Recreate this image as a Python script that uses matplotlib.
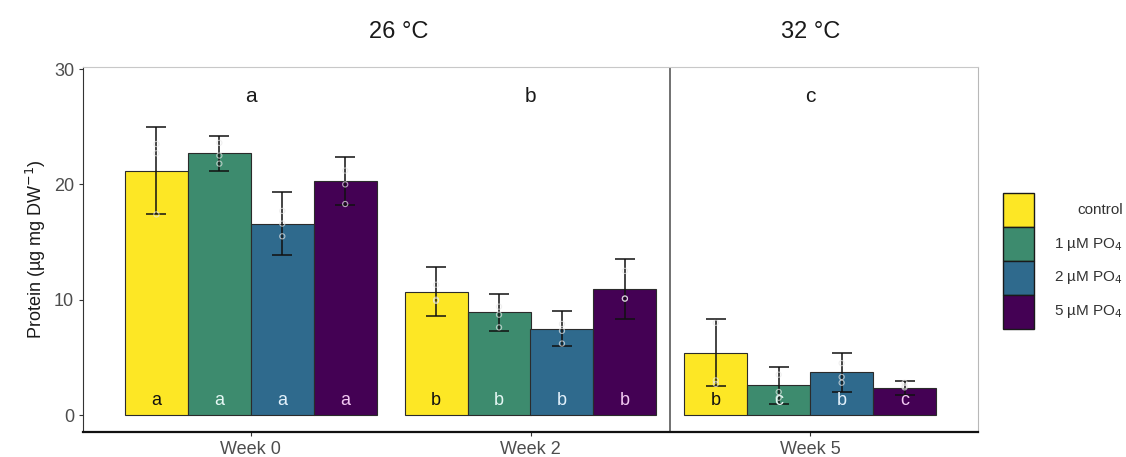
"""Protein per dry weight by week and phosphate treatment."""
import numpy as np
import matplotlib.pyplot as plt
from matplotlib.patches import Rectangle

plt.rcParams["font.family"] = ["Liberation Sans", "DejaVu Sans"]

weeks = ["Week 0", "Week 2", "Week 5"]
treatments = ["control", "1 µM PO$_4$", "2 µM PO$_4$", "5 µM PO$_4$"]
colors = ["#FDE725", "#3d8b6e", "#2f6a8d", "#440154"]
label_colors = ["#111111", "#e6f7f4", "#e3f1fb", "#f2c9f2"]

# means (rows: treatment, cols: week)
means = [
    [21.2, 10.7, 5.4],
    [22.7, 8.9, 2.6],
    [16.6, 7.5, 3.7],
    [20.3, 10.9, 2.35],
]
errors = [
    [3.8, 2.1, 2.9],
    [1.5, 1.6, 1.6],
    [2.7, 1.5, 1.7],
    [2.1, 2.6, 0.6],
]
replicates = [
    [[23.5, 22.7, 17.4], [11.3, 10.0, 9.9], [3.0, 2.7, 8.0]],
    [[23.6, 22.5, 21.8], [9.4, 8.7, 7.6], [3.5, 2.0, 1.5]],
    [[17.7, 16.6, 15.5], [7.9, 7.3, 6.2], [4.5, 3.3, 2.8]],
    [[21.2, 20.0, 18.3], [10.1, 10.1, 12.5], [2.8, 2.5, 2.4]],
]
bar_letters = [
    ["a", "b", "b"],
    ["a", "b", "c"],
    ["a", "b", "b"],
    ["a", "b", "c"],
]
week_letters = ["a", "b", "c"]
facet_labels = ["26 °C", "32 °C"]

fig = plt.figure(figsize=(11.26, 4.57), dpi=100)
ax = fig.add_axes([83 / 1126, 1 - 432 / 457, (978 - 83) / 1126, (432 - 67) / 457])

x = np.arange(1, len(weeks) + 1)
width = 0.225
offsets = (np.arange(4) - 1.5) * width

for i in range(4):
    xs = x + offsets[i]
    ax.bar(xs, means[i], width=width, color=colors[i], edgecolor="#2b2b2b",
           linewidth=0.8, zorder=2)
    ax.errorbar(xs, means[i], yerr=errors[i], fmt="none", ecolor="#111111",
                elinewidth=1.1, capsize=7, capthick=1.1, zorder=3)
    for j in range(len(weeks)):
        ax.scatter([xs[j]] * 3, replicates[i][j], s=14, facecolor="none",
                   edgecolor="#e8e8e8", linewidth=0.8, alpha=0.7, zorder=4)
        ax.text(xs[j], 1.3, bar_letters[i][j], ha="center", va="center",
                fontsize=13, color=label_colors[i], zorder=5)

for j in range(len(weeks)):
    ax.text(x[j], 27.6, week_letters[j], ha="center", va="center",
            fontsize=15, color="#1a1a1a")

ax.set_xlim(0.4, 3.6)
ax.set_ylim(-1.47, 30.18)
ax.set_yticks([0, 10, 20, 30])
ax.set_xticks(x)
ax.set_xticklabels(weeks)
ax.tick_params(axis="both", labelsize=13, labelcolor="#4d4d4d", length=3,
               width=0.8, color="#333333")
ax.set_ylabel("Protein (µg mg DW$^{-1}$)", fontsize=13, color="#1a1a1a")

# facet frame
ax.spines["top"].set_color("#c8c8c8")
ax.spines["right"].set_color("#b8b8b8")
ax.spines["left"].set_color("#333333")
ax.spines["bottom"].set_color("#111111")
ax.spines["bottom"].set_linewidth(1.6)
ax.axvline(2.5, color="#666666", linewidth=1.3, zorder=1)

ax.text(1.53, 1.095, facet_labels[0], transform=ax.get_xaxis_transform(),
        ha="center", va="center", fontsize=17, color="#1a1a1a")
ax.text(3.0, 1.095, facet_labels[1], transform=ax.get_xaxis_transform(),
        ha="center", va="center", fontsize=17, color="#1a1a1a")

# legend
key_h = 34 / 457
key_w = 31 / 1126
top = 1 - 193 / 457
for i in range(4):
    y0 = top - (i + 1) * key_h
    fig.patches.append(Rectangle((1003 / 1126, y0), key_w, key_h,
                                 transform=fig.transFigure,
                                 facecolor=colors[i], edgecolor="#1a1a1a",
                                 linewidth=1.0))
    fig.text(1123 / 1126, y0 + key_h / 2, treatments[i], ha="right",
             va="center", fontsize=11, color="#333333")

fig.savefig("out.png", dpi=100)
